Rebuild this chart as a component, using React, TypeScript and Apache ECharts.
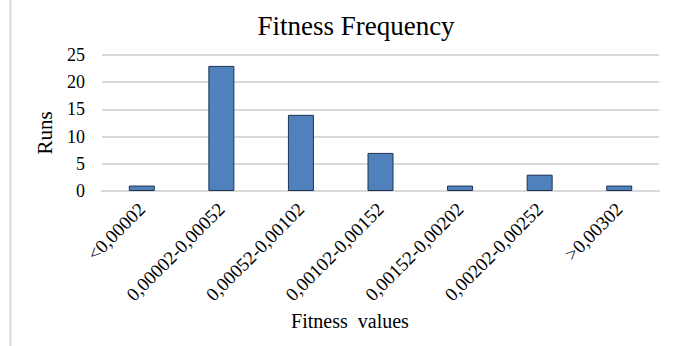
import React, { useEffect, useRef } from "react";
import * as echarts from "echarts";

const categories = [
  "<0,00002",
  "0,00002-0,00052",
  "0,00052-0,00102",
  "0,00102-0,00152",
  "0,00152-0,00202",
  "0,00202-0,00252",
  ">0,00302",
];
const runs = [1, 23, 14, 7, 1, 3, 1];
const yTicks = { min: 0, max: 25, interval: 5 };

const FONT = '"Liberation Serif", "Times New Roman", serif';

export default function App() {
  const ref = useRef<HTMLDivElement>(null);

  useEffect(() => {
    if (!ref.current) return;
    const chart = echarts.init(ref.current, undefined, { renderer: "svg" });
    chart.setOption({
      animation: false,
      backgroundColor: "#ffffff",
      graphic: [
        {
          type: "line",
          shape: { x1: 10.5, y1: 0, x2: 10.5, y2: 346 },
          style: { stroke: "#d9d9d9", lineWidth: 2 },
        },
        {
          type: "text",
          x: 356,
          y: 26,
          style: {
            text: "Fitness Frequency",
            fontFamily: FONT,
            fontSize: 27,
            fill: "#000",
            align: "center",
            verticalAlign: "middle",
          },
        },
        {
          type: "text",
          x: 45,
          y: 133,
          rotation: Math.PI / 2,
          style: {
            text: "Runs",
            fontFamily: FONT,
            fontSize: 21,
            fill: "#000",
            align: "center",
            verticalAlign: "middle",
          },
        },
        {
          type: "text",
          x: 350,
          y: 321,
          style: {
            text: "Fitness\u00a0\u00a0values",
            fontFamily: FONT,
            fontSize: 20,
            fill: "#000",
            align: "center",
            verticalAlign: "middle",
          },
        },
      ],
      grid: { left: 102, right: 19, top: 55, bottom: 155 },
      xAxis: {
        type: "category",
        data: categories,
        axisLine: { lineStyle: { color: "#d9d9d9", width: 2 } },
        axisTick: { show: false },
        axisLabel: {
          rotate: 45,
          interval: 0,
          margin: 15,
          fontFamily: FONT,
          fontSize: 19,
          color: "#000",
        },
      },
      yAxis: {
        type: "value",
        min: yTicks.min,
        max: yTicks.max,
        interval: yTicks.interval,
        axisLine: { show: false },
        axisTick: { show: false },
        axisLabel: { fontFamily: FONT, fontSize: 18, color: "#000", margin: 17 },
        splitLine: { lineStyle: { color: "#d9d9d9", width: 2 } },
      },
      series: [
        {
          type: "bar",
          data: runs,
          barWidth: 26,
          itemStyle: { color: "#4f81bd", borderColor: "#1f3350", borderWidth: 1 },
        },
      ],
    });
    return () => chart.dispose();
  }, []);

  return (
    <div
      ref={ref}
      style={{ position: "fixed", left: 0, top: 0, width: 678, height: 346 }}
    />
  );
}
